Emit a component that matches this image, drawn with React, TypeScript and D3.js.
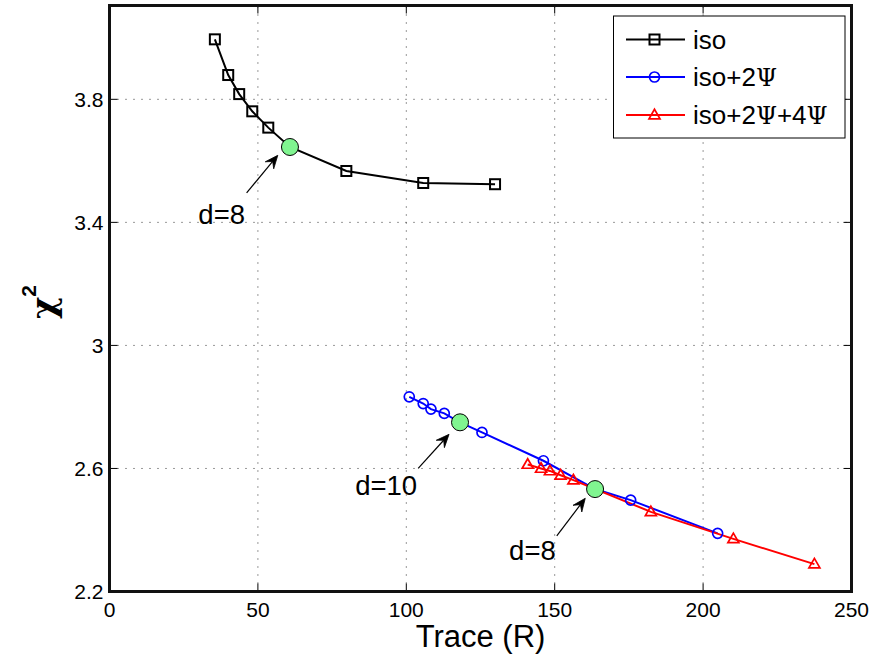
import React from "react";
import * as d3 from "d3";

const W = 876;
const H = 663;

// ---- data ----
const isoX = [35.5, 40.0, 43.7, 48.1, 53.5, 60.8, 79.8, 105.7, 129.9];
const isoY = [3.995, 3.879, 3.817, 3.761, 3.708, 3.645, 3.567, 3.528, 3.524];
const iso2X = [101.0, 105.7, 108.3, 112.8, 118.1, 125.5, 146.2, 163.6, 175.6, 204.9];
const iso2Y = [2.833, 2.811, 2.793, 2.779, 2.75, 2.717, 2.625, 2.533, 2.497, 2.389];
const iso24X = [140.9, 145.4, 148.4, 152.0, 156.3, 182.4, 210.2, 237.5];
const iso24Y = [2.613, 2.6, 2.592, 2.578, 2.562, 2.459, 2.371, 2.289];
// markers hidden at the highlighted (green) points
const iso2Hidden = [4, 7];
const isoHidden = [5];
const highlightX = [60.8, 118.1, 163.6];
const highlightY = [3.645, 2.75, 2.533];

const annotText = ["d=8", "d=10", "d=8"];
const annotTextX = [37.8, 93.2, 142.5];
const annotTextY = [3.426, 2.546, 2.336];
const annotTailX = [46.2, 104.0, 150.7];
const annotTailY = [3.496, 2.6, 2.381];
const annotTipX = [56.7, 114.4, 160.3];
const annotTipY = [3.618, 2.711, 2.503];

const xTicks = [0, 50, 100, 150, 200, 250];
const yTicks = [2.2, 2.6, 3, 3.4, 3.8];
const xLabel = "Trace (R)";

const FONT = "'Liberation Sans', Arial, Helvetica, sans-serif";
const SERIF = "'DejaVu Serif', 'Liberation Serif', serif";

const x = d3.scaleLinear().domain([0, 250]).range([109.5, 851.5]);
const y = d3.scaleLinear().domain([2.2, 4.105]).range([591.5, 5.5]);

function linePath(xs: number[], ys: number[]) {
  const gen = d3
    .line<number>()
    .x((_, i) => x(xs[i]))
    .y((_, i) => y(ys[i]));
  return gen(xs) || "";
}

function Square({ cx, cy }: { cx: number; cy: number }) {
  const s = 10;
  return (
    <rect x={cx - s / 2} y={cy - s / 2} width={s} height={s} fill="none" stroke="#000" strokeWidth={2} />
  );
}
function Circ({ cx, cy }: { cx: number; cy: number }) {
  return <circle cx={cx} cy={cy} r={5} fill="none" stroke="#0000ff" strokeWidth={1.7} />;
}
function Tri({ cx, cy }: { cx: number; cy: number }) {
  const s = 11;
  const h = s * 0.866;
  const p = `${cx},${cy - h * 0.6} ${cx - s / 2},${cy + h * 0.4} ${cx + s / 2},${cy + h * 0.4}`;
  return <polygon points={p} fill="none" stroke="#ff0000" strokeWidth={1.7} strokeLinejoin="miter" />;
}

function Arrow({ x1, y1, x2, y2 }: { x1: number; y1: number; x2: number; y2: number }) {
  const dx = x2 - x1;
  const dy = y2 - y1;
  const len = Math.hypot(dx, dy);
  const ux = dx / len;
  const uy = dy / len;
  const px = -uy;
  const py = ux;
  const L = 13;
  const Wd = 5.5;
  const notch = 8;
  const bx = x2 - ux * L;
  const by = y2 - uy * L;
  const nx = x2 - ux * notch;
  const ny = y2 - uy * notch;
  const head = `${x2},${y2} ${bx + px * Wd},${by + py * Wd} ${nx},${ny} ${bx - px * Wd},${by - py * Wd}`;
  return (
    <g>
      <line x1={x1} y1={y1} x2={nx} y2={ny} stroke="#000" strokeWidth={1.2} />
      <polygon points={head} fill="#000" stroke="#000" strokeWidth={0.8} />
    </g>
  );
}

export default function App() {
  const x0 = x.range()[0];
  const x1 = x.range()[1];
  const y0 = y.range()[0];
  const y1 = y.range()[1];
  const tickLen = 8;
  const gridColor = "#333";

  const legendItems = [
    { color: "#000", marker: "sq", label: ["iso"] },
    { color: "#0000ff", marker: "ci", label: ["iso+2", "Ψ"] },
    { color: "#ff0000", marker: "tr", label: ["iso+2", "Ψ", "+4", "Ψ"] },
  ];
  const lgX = 613.5;
  const lgY = 16;
  const lgW = 231.5;
  const lgH = 122;
  const rowY = [39.5, 77, 115];

  return (
    <svg
      width={W}
      height={H}
      style={{ position: "absolute", left: 0, top: 0, background: "#fff" }}
      fontFamily={FONT}
    >
      <rect x={0} y={0} width={W} height={H} fill="#fff" />
      {/* grid */}
      {xTicks
        .filter((t) => t > 0 && t < 250)
        .map((t) => (
          <line key={"gx" + t} x1={x(t)} x2={x(t)} y1={y0} y2={y1} stroke={gridColor} strokeWidth={1} strokeDasharray="1 7" />
        ))}
      {yTicks
        .filter((t) => t > 2.2)
        .map((t) => (
          <line key={"gy" + t} x1={x0} x2={x1} y1={y(t)} y2={y(t)} stroke={gridColor} strokeWidth={1} strokeDasharray="1 7" />
        ))}
      {/* ticks (inside, all four sides) */}
      {xTicks.map((t) => (
        <g key={"tx" + t}>
          <line x1={x(t)} x2={x(t)} y1={y0} y2={y0 - tickLen} stroke="#000" strokeWidth={1} />
          <line x1={x(t)} x2={x(t)} y1={y1} y2={y1 + tickLen} stroke="#000" strokeWidth={1} />
        </g>
      ))}
      {yTicks.map((t) => (
        <g key={"ty" + t}>
          <line x1={x0} x2={x0 + tickLen} y1={y(t)} y2={y(t)} stroke="#000" strokeWidth={1} />
          <line x1={x1} x2={x1 - tickLen} y1={y(t)} y2={y(t)} stroke="#000" strokeWidth={1} />
        </g>
      ))}

      {/* series lines */}
      <path d={linePath(isoX, isoY)} fill="none" stroke="#000" strokeWidth={2} />
      <path d={linePath(iso2X, iso2Y)} fill="none" stroke="#0000ff" strokeWidth={2} />
      <path d={linePath(iso24X, iso24Y)} fill="none" stroke="#ff0000" strokeWidth={2} />

      {/* markers */}
      {isoX.map((v, i) =>
        isoHidden.includes(i) ? null : <Square key={"s" + i} cx={x(v)} cy={y(isoY[i])} />
      )}
      {iso2X.map((v, i) =>
        iso2Hidden.includes(i) ? null : <Circ key={"c" + i} cx={x(v)} cy={y(iso2Y[i])} />
      )}
      {iso24X.map((v, i) => (
        <Tri key={"t" + i} cx={x(v)} cy={y(iso24Y[i])} />
      ))}

      {/* highlighted points */}
      {highlightX.map((v, i) => (
        <circle key={"h" + i} cx={x(v)} cy={y(highlightY[i])} r={8.5} fill="#80f590" stroke="#000" strokeWidth={1} />
      ))}

      {/* annotations */}
      {annotText.map((t, i) => (
        <g key={"a" + i}>
          <Arrow x1={x(annotTailX[i])} y1={y(annotTailY[i])} x2={x(annotTipX[i])} y2={y(annotTipY[i])} />
          <text
            x={x(annotTextX[i])}
            y={y(annotTextY[i])}
            dy="0.36em"
            textAnchor="middle"
            fontSize={27.5}
            fill="#000"
          >
            {t}
          </text>
        </g>
      ))}

      {/* axes box */}
      <rect x={x0} y={y1} width={x1 - x0} height={y0 - y1} fill="none" stroke="#111" strokeWidth={3} />

      {/* tick labels */}
      {xTicks.map((t) => (
        <text key={"lx" + t} x={x(t)} y={617} textAnchor="middle" fontSize={21} fill="#000">
          {d3.format("d")(t)}
        </text>
      ))}
      {yTicks.map((t) => (
        <text key={"ly" + t} x={103.5} y={y(t)} dy="0.36em" textAnchor="end" fontSize={21} fill="#000">
          {String(t)}
        </text>
      ))}

      {/* axis labels */}
      <text x={(x0 + x1) / 2} y={647} textAnchor="middle" fontSize={31} fill="#000">
        {xLabel}
      </text>
      <g transform="translate(55,302) rotate(-90)">
        <text x={0} y={0} textAnchor="middle" fontWeight="bold" fill="#000">
          <tspan fontFamily={SERIF} fontSize={34}>χ</tspan>
          <tspan fontSize={21} dy={-19}>2</tspan>
        </text>
      </g>

      {/* legend */}
      <rect x={lgX} y={lgY} width={lgW} height={lgH} fill="#fff" stroke="#000" strokeWidth={1} />
      {legendItems.map((it, i) => {
        const ry = rowY[i];
        const mx = 654.5;
        return (
          <g key={"lg" + i}>
            <line x1={626} x2={685} y1={ry} y2={ry} stroke={it.color} strokeWidth={2} />
            {it.marker === "sq" && <Square cx={mx} cy={ry} />}
            {it.marker === "ci" && <Circ cx={mx} cy={ry} />}
            {it.marker === "tr" && <Tri cx={mx} cy={ry} />}
            <text x={693} y={ry} dy="0.36em" fontSize={26} fill="#000">
              {it.label.map((s, k) =>
                s === "Ψ" ? (
                  <tspan key={k} fontFamily={SERIF} fontSize={24}>
                    {s}
                  </tspan>
                ) : (
                  <tspan key={k}>{s}</tspan>
                )
              )}
            </text>
          </g>
        );
      })}
    </svg>
  );
}
